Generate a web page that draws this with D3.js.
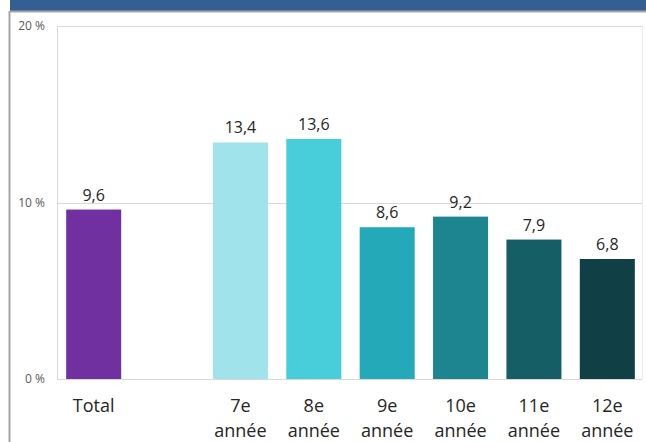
<!DOCTYPE html>
<html><head><meta charset="utf-8">
<script src="https://cdn.jsdelivr.net/npm/d3@7"></script>
<style>body{margin:0;background:#fff}svg{display:block}</style>
</head><body>
<script>
const categories = ["Total", "", "7e année", "8e année", "9e année", "10e année", "11e année", "12e année"];
const values = [9.6, null, 13.4, 13.6, 8.6, 9.2, 7.9, 6.8];
const colors = ["#7030a0", null, "#a1e3ea", "#48cddb", "#24a9b8", "#1c8590", "#165e66", "#103f45"];
const yTicks = [0, 10, 20];
const yTickLabels = ["0 %", "10 %", "20 %"];

const W = 646, H = 442;
const svg = d3.select("body").append("svg").attr("width", W).attr("height", H);
svg.append("rect").attr("x",10).attr("y",0).attr("width",W-10).attr("height",11).attr("fill","#335f93");
svg.append("line").attr("x1",10).attr("x2",W).attr("y1",11.5).attr("y2",11.5).attr("stroke","#a6a6a6").attr("stroke-width",2);
svg.append("line").attr("x1",9.5).attr("x2",9.5).attr("y1",11).attr("y2",H).attr("stroke","#a6a6a6").attr("stroke-width",2);

const x = d3.scaleBand().domain(categories.map((c,i)=>i)).range([57, 644]).paddingInner(0.25).paddingOuter(0.125);
const y = d3.scaleLinear().domain([0, 20]).range([379, 26]);

const font = "'Open Sans', sans-serif";
svg.append("g").selectAll("line").data(yTicks).join("line")
  .attr("x1",57).attr("x2",642).attr("y1",d=>Math.round(y(d))+0.5).attr("y2",d=>Math.round(y(d))+0.5)
  .attr("stroke","#d9d9d9").attr("stroke-width",1);
svg.append("line").attr("x1",57.5).attr("x2",57.5).attr("y1",y(20)).attr("y2",y(0)).attr("stroke","#d9d9d9");
svg.append("line").attr("x1",642.5).attr("x2",642.5).attr("y1",y(20)).attr("y2",y(0)).attr("stroke","#ececec");

svg.append("g").selectAll("text").data(yTicks).join("text")
  .attr("x",45).attr("y",d=>y(d)+4).attr("text-anchor","end")
  .attr("font-family",font).attr("font-size",12).attr("fill","#595959")
  .text((d,i)=>yTickLabels[i]);

const idx = categories.map((c,i)=>i).filter(i=>values[i]!==null);
svg.append("g").selectAll("rect").data(idx).join("rect")
  .attr("x",i=>x(i)).attr("width",x.bandwidth())
  .attr("y",i=>y(values[i])).attr("height",i=>y(0)-y(values[i]))
  .attr("fill",i=>colors[i]);

svg.append("g").selectAll("text").data(idx).join("text")
  .attr("x",i=>x(i)+x.bandwidth()/2).attr("y",i=>y(values[i])-9)
  .attr("text-anchor","middle").attr("font-family",font).attr("font-size",16).attr("fill","#262626")
  .text(i=>String(values[i]).replace(".", ","));

const lab = svg.append("g").selectAll("text").data(idx).join("text")
  .attr("text-anchor","middle").attr("font-family",font).attr("font-size",18).attr("fill","#262626");
lab.each(function(i){
  const parts = categories[i].split(" ");
  const t = d3.select(this);
  parts.forEach((p,k)=>{
    t.append("tspan").attr("x",x(i)+x.bandwidth()/2).attr("y",412+k*25).text(p);
  });
});
</script>
</body></html>
